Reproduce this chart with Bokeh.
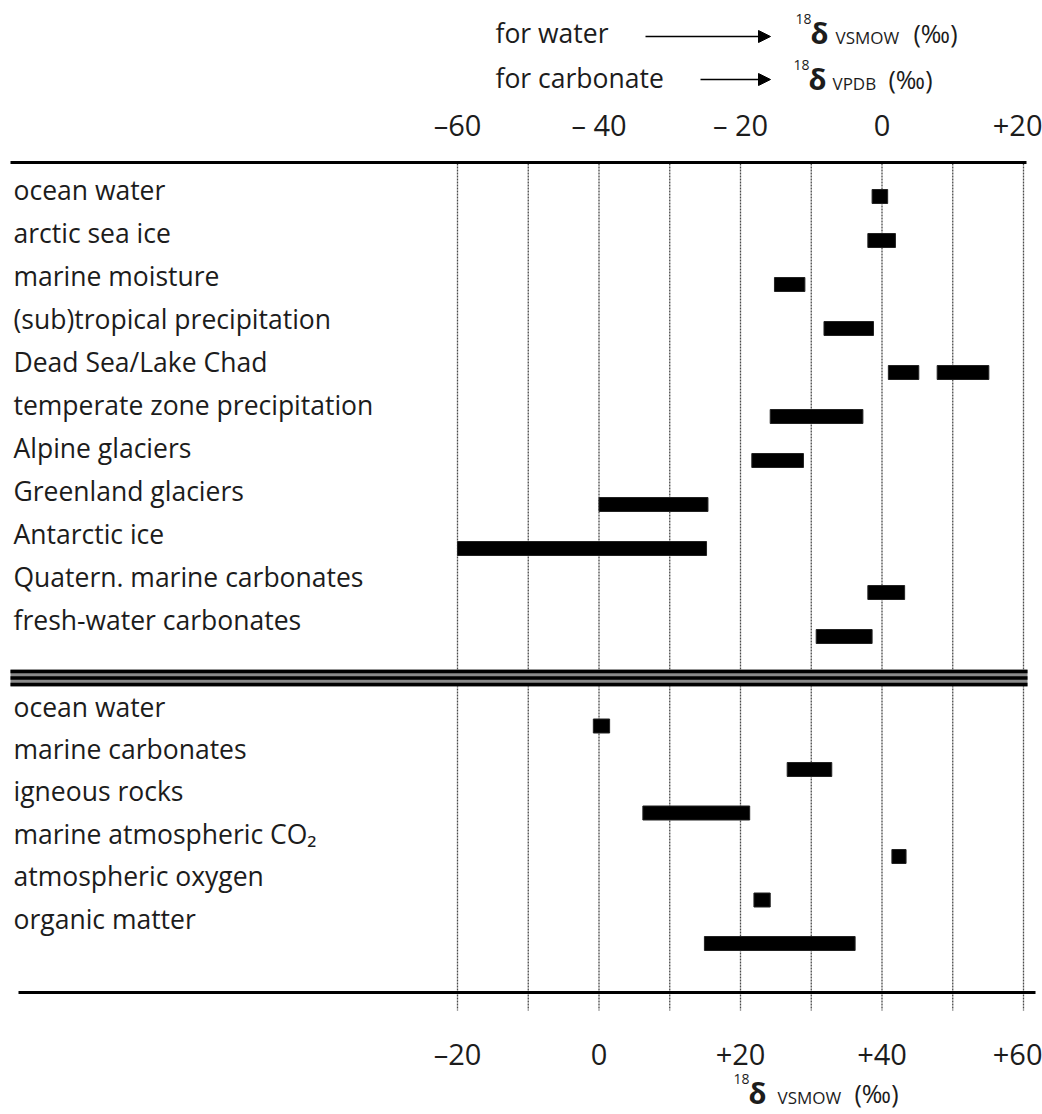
from bokeh.plotting import figure
from bokeh.models import Range1d, LinearAxis, FixedTicker, Arrow, NormalHead
from bokeh.core.properties import value
from bokeh.embed import file_html
from bokeh.resources import INLINE

# ---- data -------------------------------------------------------------
# upper block: ranges read on the upper scale (water: VSMOW, carbonate: VPDB)
upper_labels = ["ocean water", "arctic sea ice", "marine moisture",
                "(sub)tropical precipitation", "Dead Sea/Lake Chad",
                "temperate zone precipitation", "Alpine glaciers",
                "Greenland glaciers", "Antarctic ice",
                "Quatern. marine carbonates", "fresh-water carbonates"]
upper_bar_row = [0, 1, 2, 3, 4, 4, 5, 6, 7, 8, 9, 10]
upper_bar_low = [-1.4, -2.0, -15.2, -8.2, 0.9, 7.8, -15.8, -18.4, -40.0, -60.0, -2.0, -9.3]
upper_bar_high = [0.8, 1.9, -10.9, -1.2, 5.2, 15.1, -2.7, -11.1, -24.6, -24.8, 3.2, -1.4]

# lower block: ranges on the VSMOW scale
lower_labels = ["ocean water", "marine carbonates", "igneous rocks",
                "marine atmospheric CO\u2082", "atmospheric oxygen", "organic matter"]
lower_bar_low = [-0.8, 26.6, 6.2, 41.4, 21.9, 14.9]
lower_bar_high = [1.5, 32.9, 21.3, 43.4, 24.2, 36.2]

top_ticks = [-60, -40, -20, 0, 20]
top_tick_labels = ["\u201360", "\u2013 40", "\u2013 20", "0", "+20"]
bottom_ticks = [-20, 0, 20, 40, 60]
bottom_tick_labels = ["\u201320", "0", "+20", "+40", "+60"]
grid_ticks = [-20, -10, 0, 10, 20, 30, 40, 50, 60]
scale_shift = 40  # upper scale value = lower scale value - 40

# ---- geometry ----------------------------------------------------------
W, H = 1042, 1114
TOP_RULE, BOTTOM_RULE = 162, 992
PX_PER_UNIT = 566 / 80.0
X_AT_M20 = 457


def dx(px):
    """canvas column -> lower-scale value"""
    return -20 + (px - X_AT_M20) / PX_PER_UNIT


FONT = "Open Sans"
INK = "#1c1c1c"
LABEL_SIZE = 26.5
TICK_SIZE = "29px"

# y is measured in canvas rows (top = 0)
p = figure(width=W, height=H,
           x_range=Range1d(dx(0), dx(W)),
           y_range=Range1d(H, 0),
           x_axis_location=None, y_axis_location=None,
           min_border=0, min_border_left=0, min_border_right=0,
           min_border_top=0, min_border_bottom=0,
           toolbar_location=None, output_backend="svg",
           outline_line_color=None, background_fill_color="white")
p.extra_x_ranges = {"top": Range1d(dx(0) - scale_shift, dx(W) - scale_shift)}
p.grid.visible = False

# dotted vertical grid every 10 units
p.segment(x0=grid_ticks, x1=grid_ticks,
          y0=[TOP_RULE + 1] * len(grid_ticks), y1=[BOTTOM_RULE + 18] * len(grid_ticks),
          line_color="#4a4a4a", line_dash="2 1", line_width=1.3)

# upper scale
top_axis = LinearAxis(x_range_name="top", fixed_location=TOP_RULE,
                      ticker=FixedTicker(ticks=top_ticks, minor_ticks=[]),
                      bounds=(dx(10) - scale_shift, dx(1026) - scale_shift),
                      axis_line_width=3, axis_line_color="black",
                      major_tick_out=0, major_tick_in=0, minor_tick_out=0, minor_tick_in=0,
                      major_label_standoff=19,
                      major_label_text_font=FONT, major_label_text_font_size=TICK_SIZE,
                      major_label_text_color=INK,
                      major_label_overrides=dict(zip(top_ticks, top_tick_labels)))
p.add_layout(top_axis, "above")

# lower scale
bottom_axis = LinearAxis(fixed_location=BOTTOM_RULE,
                         ticker=FixedTicker(ticks=bottom_ticks, minor_ticks=[]),
                         bounds=(dx(18), dx(1035)),
                         axis_line_width=3, axis_line_color="black",
                         major_tick_out=0, major_tick_in=0, minor_tick_out=0, minor_tick_in=0,
                         major_label_standoff=41,
                         major_label_text_font=FONT, major_label_text_font_size=TICK_SIZE,
                         major_label_text_color=INK,
                         major_label_overrides=dict(zip(bottom_ticks, bottom_tick_labels)))
p.add_layout(bottom_axis, "below")

# separator between the two blocks
sep_x0, sep_x1 = dx(10), dx(1027)
p.line([sep_x0, sep_x1], [677.5, 677.5], line_width=17, line_color="#8a8a8a")
for yy in (671, 677.5, 684):
    p.line([sep_x0, sep_x1], [yy, yy], line_width=3.5, line_color="black")

# ---- upper block ------------------------------------------------------
up_label_y = [189 + 43.0 * i for i in range(len(upper_labels))]
up_bar_y = [196 + 44.0 * r for r in upper_bar_row]
p.text(x=[dx(13)] * len(upper_labels), y=up_label_y, text=upper_labels,
       text_font=value(FONT), text_font_size=f"{LABEL_SIZE}px", text_color=INK,
       text_align="left", text_baseline="middle")
p.hbar(y=up_bar_y, left=upper_bar_low, right=upper_bar_high, height=14,
       x_range_name="top", fill_color="black", line_color="#222222", line_width=1)

# ---- lower block ------------------------------------------------------
lo_label_y = [706 + 42.4 * i for i in range(len(lower_labels))]
lo_bar_y = [725.5 + 43.5 * i for i in range(len(lower_labels))]
p.text(x=[dx(13)] * len(lower_labels), y=lo_label_y, text=lower_labels,
       text_font=value(FONT), text_font_size=f"{LABEL_SIZE}px", text_color=INK,
       text_align="left", text_baseline="middle")
p.hbar(y=lo_bar_y, left=lower_bar_low, right=lower_bar_high, height=14,
       fill_color="black", line_color="#222222", line_width=1)


# ---- scale captions -----------------------------------------------------
def caption_text(x_px, baseline_px, txt, size, style="normal"):
    # place by baseline: the em-box centre sits ~0.39 em above it
    p.text(x=[dx(x_px)], y=[baseline_px - 0.39 * size], text=[txt], text_font=value(FONT),
           text_font_size=f"{size}px", text_font_style=style, text_color=INK,
           text_align="left", text_baseline="middle")


def delta_caption(x_px, base_y, ref, ref_dx, unit_dx):
    caption_text(x_px, base_y - 19, "18", 14)
    caption_text(x_px + 15, base_y, "\u03b4", 29, "bold")
    caption_text(x_px + ref_dx, base_y + 1, ref, 17)
    caption_text(x_px + unit_dx, base_y - 1, "(\u2030)", 25)


delta_caption(795, 43, "VSMOW", 40, 118)
delta_caption(793, 89, "VPDB", 39, 95)
delta_caption(733, 1103, "VSMOW", 44, 121)

caption_text(495, 43, "for water", LABEL_SIZE)
caption_text(495, 88, "for carbonate", LABEL_SIZE)

head = dict(size=12, fill_color="black", line_color="black")
p.add_layout(Arrow(end=NormalHead(**head), x_start=dx(645), y_start=36, x_end=dx(770), y_end=36,
                   line_width=1.6, line_color="black"))
p.add_layout(Arrow(end=NormalHead(**head), x_start=dx(700), y_start=79, x_end=dx(770), y_end=79,
                   line_width=1.6, line_color="black"))

open("out.html", "w").write(file_html(p, INLINE))
